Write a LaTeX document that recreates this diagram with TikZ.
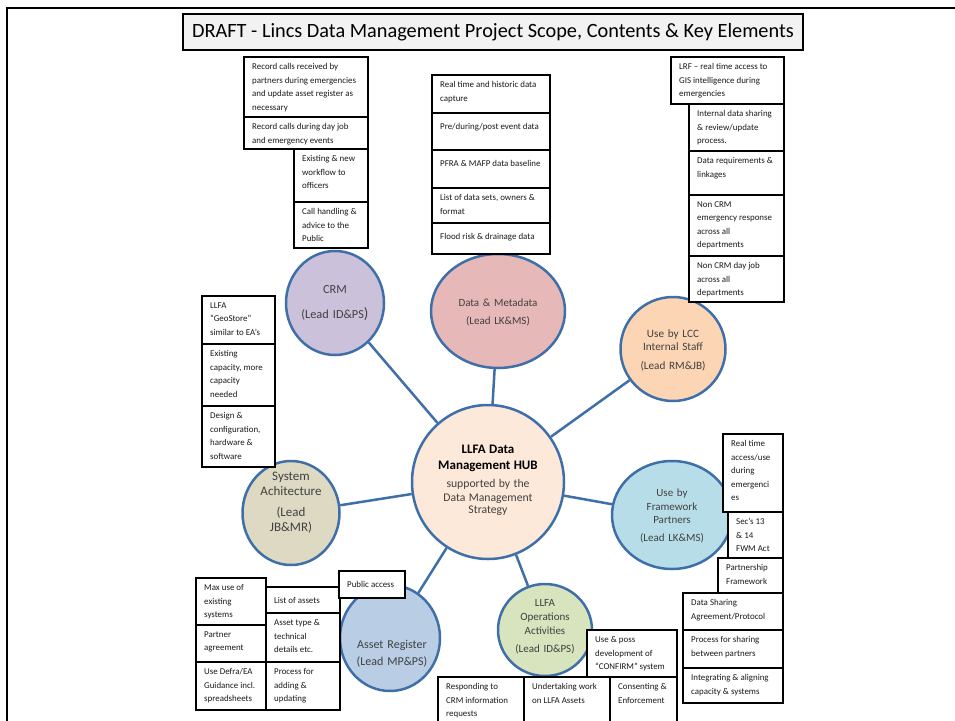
\documentclass[tikz,border=0pt]{standalone}
\usepackage{fontspec}
\setmainfont{Carlito}
\usetikzlibrary{shapes.geometric}
\definecolor{cblue}{HTML}{3F6FA8}
\definecolor{ctext}{HTML}{404040}
\definecolor{crmfill}{HTML}{CCC1DA}
\definecolor{datafill}{HTML}{E6B9B8}
\definecolor{lccfill}{HTML}{FCD5B5}
\definecolor{hubfill}{HTML}{FDE9D9}
\definecolor{fwfill}{HTML}{B7DEE8}
\definecolor{opsfill}{HTML}{D7E4BD}
\definecolor{assetfill}{HTML}{B9CDE5}
\definecolor{sysfill}{HTML}{DDD9C3}
\definecolor{titlefill}{HTML}{F2F2F2}
\tikzset{
  frameln/.style={draw=black, line width=2.8pt},
  titlebox/.style={draw=black, line width=1.3pt, fill=titlefill, minimum width=620, minimum height=36, inner sep=0pt, font=\fontsize{20.3}{22}\selectfont},
  bub/.style={ellipse, draw=cblue, line width=2.5pt, inner sep=0pt},
  bubtx/.style={align=center, text width=130pt, inner sep=0pt, text=ctext},
  conn/.style={draw=cblue, line width=2.5pt},
  boxln/.style={draw=black, line width=1.3pt, fill=white},
  boxtx/.style={anchor=north west, align=left, inner xsep=8pt, inner ysep=6.5pt, text=black!90, font=\fontsize{8.9}{13.5}\selectfont, execute at begin node=\strut},
}
\newcommand\bx[6]{\draw[boxln] (#2,#3) rectangle (#4,#5); \node[boxtx] (#1) at (#2,#3) {#6};}
\begin{document}
\begin{tikzpicture}[x=1pt,y=-1pt]
\useasboundingbox (0,0) rectangle (955,720);
\clip (0,0) rectangle (955,720);
\draw[frameln] (7,730) -- (7,8) -- (960,8);
\node[titlebox] (title) at (493,32) {DRAFT - Lincs Data Management Project Scope, Contents \& Key Elements};

% bubbles
\node[bub, fill=hubfill, minimum width=152, minimum height=154] (hub) at (488,482) {};
\node[bub, fill=crmfill, minimum width=98, minimum height=104] (crm) at (335,303) {};
\node[bub, fill=datafill, minimum width=134, minimum height=114] (data) at (498,311) {};
\node[bub, fill=lccfill, minimum width=105, minimum height=104] (lcc) at (673,349) {};
\node[bub, fill=fwfill, minimum width=120, minimum height=108] (fw) at (672,515) {};
\node[bub, fill=opsfill, minimum width=94, minimum height=92] (ops) at (545,630) {};
\node[bub, fill=assetfill, minimum width=100, minimum height=106] (asset) at (390,638) {};
\node[bub, fill=sysfill, minimum width=97, minimum height=104] (sys) at (291,513) {};

\foreach \c in {crm,data,lcc,fw,ops,asset,sys} {\draw[conn] (hub) -- (\c);}

% bubble texts
\node[bubtx, text=black] (hub-t) at (488,480) {\fontsize{13}{16}\selectfont\bfseries LLFA Data\\Management HUB\par\vspace{5pt}\fontsize{11.7}{13.5}\selectfont\mdseries\color{ctext}supported by the\\Data Management\\Strategy};
\node[bubtx, font=\fontsize{12.3}{14}\selectfont] (crm-t) at (335,303) {CRM\\[11pt](Lead ID\&PS{\fontsize{15}{14}\selectfont )}};
\node[bubtx, font=\fontsize{11}{13}\selectfont] (data-t) at (498,312) {Data \& Metadata\\[5pt](Lead LK\&MS)};
\node[bubtx, font=\fontsize{11.2}{13.5}\selectfont] (lcc-t) at (673,350) {Use by LCC\\Internal Staff\\[5pt](Lead RM\&JB)};
\node[bubtx, font=\fontsize{11}{13.5}\selectfont] (fw-t) at (672,516) {Use by\\Framework\\Partners\\[4pt](Lead LK\&MS)};
\node[bubtx, font=\fontsize{11}{14}\selectfont] (ops-t) at (545,627) {LLFA\\Operations\\Activities\\[4pt](Lead ID\&PS)};
\node[bubtx, font=\fontsize{12}{14}\selectfont] (asset-t) at (392,654) {Asset Register\\[3pt](Lead MP\&PS)};
\node[bubtx, font=\fontsize{13}{15}\selectfont] (sys-t) at (291,503) {System\\Achitecture\\[6pt](Lead\\JB\&MR)};

% CRM boxes
\bx{c1}{244}{57}{368}{117}{Record calls received by\\partners during emergencies\\and update asset register as\\necessary}
\bx{c2}{244}{117}{368}{149}{Record calls during day job\\and emergency events}
\bx{c3}{294}{149}{368}{202}{Existing \& new\\workflow to\\officers}
\bx{c4}{294}{202}{368}{248}{Call handling \&\\advice to the\\Public}

% Data boxes
\bx{d1}{432}{75}{550}{113}{Real time and historic data\\capture}
\bx{d2}{432}{113}{550}{150}{Pre/during/post event data}
\bx{d3}{432}{150}{550}{188}{PFRA \& MAFP data baseline}
\bx{d4}{432}{188}{550}{223}{List of data sets, owners \&\\format}
\bx{d5}{432}{223}{550}{254}{Flood risk \& drainage data}

% LCC boxes
\bx{l1}{671}{57}{784}{104}{LRF – real time access to\\GIS intelligence during\\emergencies}
\bx{l2}{689}{104}{784}{151}{Internal data sharing\\\& review/update\\process.}
\bx{l3}{689}{151}{784}{195}{Data requirements \&\\linkages}
\bx{l4}{689}{195}{784}{256}{Non CRM\\emergency response\\across all\\departments}
\bx{l5}{689}{256}{784}{302}{Non CRM day job\\across all\\departments}

% System boxes
\bx{s1}{202}{296}{275}{344}{LLFA\\“GeoStore”\\similar to EA’s}
\bx{s2}{202}{344}{275}{406}{Existing\\capacity, more\\capacity\\needed}
\bx{s3}{202}{406}{275}{467}{Design \&\\configuration,\\hardware \&\\software}

% Framework boxes
\bx{f1}{723}{434}{783}{512}{Real time\\access/use\\during\\emergenci\\es}
\bx{f2}{728}{512}{783}{558}{Sec’s 13\\\& 14\\FWM Act}
\bx{f3}{718}{558}{783}{593}{Partnership\\Framework}
\bx{f4}{683}{593}{783}{630}{Data Sharing\\Agreement/Protocol}
\bx{f5}{683}{630}{783}{668}{Process for sharing\\between partners}
\bx{f6}{683}{668}{783}{703}{Integrating \& aligning\\capacity \& systems}

% Asset boxes
\bx{a1}{196}{578}{266}{625}{Max use of\\existing\\systems}
\bx{a2}{196}{625}{266}{662}{Partner\\agreement}
\bx{a3}{196}{662}{266}{710}{Use Defra/EA\\Guidance incl.\\spreadsheets}
\bx{a4}{266}{587}{340}{613}{List of assets}
\bx{a5}{266}{613}{340}{662}{Asset type \&\\technical\\details etc.}
\bx{a6}{266}{662}{340}{710}{Process for\\adding \&\\updating}
\bx{a7}{339}{571}{405}{598}{Public access}

% Ops boxes
\bx{o1}{587}{630}{677}{677}{Use \& poss\\development of\\“CONFIRM” system}
\bx{o2}{438}{677}{524}{730}{Responding to\\CRM information\\requests}
\bx{o3}{524}{677}{610}{730}{Undertaking work\\on LLFA Assets}
\bx{o4}{610}{677}{677}{730}{Consenting \&\\Enforcement}
\end{tikzpicture}
\end{document}
